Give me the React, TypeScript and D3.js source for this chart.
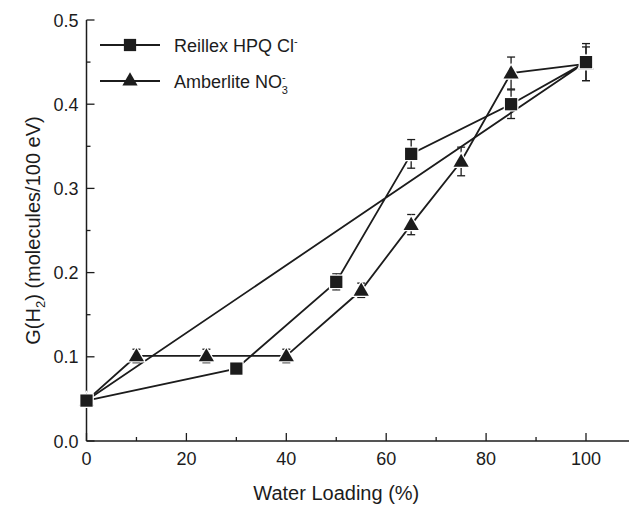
import React, { useEffect, useRef } from "react";
import * as d3 from "d3";

// Reillex HPQ Cl- (square markers)
const reillexX = [0, 30, 50, 65, 85, 100];
const reillexY = [0.048, 0.086, 0.189, 0.341, 0.4, 0.45];
const reillexErr = [0.004, 0.003, 0.0095, 0.017, 0.017, 0.022];

// Amberlite NO3- (triangle markers)
const amberliteX = [0, 10, 24, 40, 55, 65, 75, 85, 100];
const amberliteY = [0.048, 0.101, 0.101, 0.101, 0.179, 0.257, 0.332, 0.437, 0.448];
const amberliteErr = [0.004, 0.008, 0.008, 0.008, 0.0085, 0.012, 0.017, 0.019, 0.02];

const xTicks = [0, 20, 40, 60, 80, 100];
const xMinorTicks = [10, 30, 50, 70, 90];
const yTicks = [0, 0.1, 0.2, 0.3, 0.4, 0.5];
const yMinorTicks = [0.05, 0.15, 0.25, 0.35, 0.45];

const App = () => {
  const ref = useRef<SVGSVGElement>(null);

  useEffect(() => {
    const width = 629;
    const height = 506;
    const ink = "#1c1c1c";
    const font = "Arial, 'Liberation Sans', Helvetica, sans-serif";

    const svg = d3.select(ref.current);
    svg.selectAll("*").remove();
    svg.attr("width", width).attr("height", height);

    const x = d3.scaleLinear().domain([0, 100]).range([86.5, 586]);
    const y = d3.scaleLinear().domain([0, 0.5]).range([441, 20]);

    // axes (left and bottom only, inward ticks)
    const xAxis = svg.append("g");
    xAxis
      .append("line")
      .attr("x1", x(0))
      .attr("x2", width)
      .attr("y1", y(0))
      .attr("y2", y(0))
      .attr("stroke", ink)
      .attr("stroke-width", 1.5);
    xAxis
      .selectAll(".maj")
      .data(xTicks)
      .enter()
      .append("line")
      .attr("x1", (d) => x(d))
      .attr("x2", (d) => x(d))
      .attr("y1", y(0))
      .attr("y2", y(0) - 8)
      .attr("stroke", ink)
      .attr("stroke-width", 1.3);
    xAxis
      .selectAll(".min")
      .data(xMinorTicks)
      .enter()
      .append("line")
      .attr("x1", (d) => x(d))
      .attr("x2", (d) => x(d))
      .attr("y1", y(0))
      .attr("y2", y(0) - 4)
      .attr("stroke", ink)
      .attr("stroke-width", 1.3);
    xAxis
      .selectAll("text")
      .data(xTicks)
      .enter()
      .append("text")
      .attr("x", (d) => x(d))
      .attr("y", y(0) + 24)
      .attr("text-anchor", "middle")
      .attr("font-family", font)
      .attr("font-size", 18)
      .attr("fill", ink)
      .text((d) => d);

    const yAxis = svg.append("g");
    yAxis
      .append("line")
      .attr("x1", x(0))
      .attr("x2", x(0))
      .attr("y1", y(0))
      .attr("y2", y(0.5))
      .attr("stroke", ink)
      .attr("stroke-width", 1.5);
    yAxis
      .selectAll(".maj")
      .data(yTicks)
      .enter()
      .append("line")
      .attr("x1", x(0))
      .attr("x2", x(0) + 8)
      .attr("y1", (d) => y(d))
      .attr("y2", (d) => y(d))
      .attr("stroke", ink)
      .attr("stroke-width", 1.3);
    yAxis
      .selectAll(".min")
      .data(yMinorTicks)
      .enter()
      .append("line")
      .attr("x1", x(0))
      .attr("x2", x(0) + 4)
      .attr("y1", (d) => y(d))
      .attr("y2", (d) => y(d))
      .attr("stroke", ink)
      .attr("stroke-width", 1.3);
    yAxis
      .selectAll("text")
      .data(yTicks)
      .enter()
      .append("text")
      .attr("x", x(0) - 8)
      .attr("y", (d) => y(d) + 6.5)
      .attr("text-anchor", "end")
      .attr("font-family", font)
      .attr("font-size", 18)
      .attr("fill", ink)
      .text((d) => d3.format(".1f")(d));

    // axis titles
    svg
      .append("text")
      .attr("x", (x(0) + x(100)) / 2)
      .attr("y", 500)
      .attr("text-anchor", "middle")
      .attr("font-family", font)
      .attr("font-size", 20)
      .attr("fill", ink)
      .text("Water Loading (%)");

    const yt = svg
      .append("text")
      .attr("transform", `translate(40, ${(y(0) + y(0.5)) / 2}) rotate(-90)`)
      .attr("text-anchor", "middle")
      .attr("font-family", font)
      .attr("font-size", 20)
      .attr("fill", ink);
    yt.append("tspan").text("G(H");
    yt.append("tspan").attr("font-size", 13).attr("dy", 5).text("2");
    yt.append("tspan").attr("dy", -5).text(") (molecules/100 eV)");

    const reillex = reillexX.map((v, i) => ({ x: v, y: reillexY[i], e: reillexErr[i] }));
    const amberlite = amberliteX.map((v, i) => ({ x: v, y: amberliteY[i], e: amberliteErr[i] }));

    const line = d3
      .line<{ x: number; y: number }>()
      .x((d) => x(d.x))
      .y((d) => y(d.y));

    // Reillex path closes back to its first point
    svg
      .append("path")
      .attr("d", line(reillex) + "Z")
      .attr("fill", "none")
      .attr("stroke", ink)
      .attr("stroke-width", 1.8);
    svg
      .append("path")
      .attr("d", line(amberlite))
      .attr("fill", "none")
      .attr("stroke", ink)
      .attr("stroke-width", 1.8);

    // error bars
    const drawErr = (data) => {
      const g = svg.append("g").attr("stroke", ink).attr("stroke-width", 1.3);
      data.forEach((d) => {
        g.append("line")
          .attr("x1", x(d.x))
          .attr("x2", x(d.x))
          .attr("y1", y(d.y - d.e))
          .attr("y2", y(d.y + d.e));
        [d.y - d.e, d.y + d.e].forEach((v) => {
          g.append("line")
            .attr("x1", x(d.x) - 4)
            .attr("x2", x(d.x) + 4)
            .attr("y1", y(v))
            .attr("y2", y(v));
        });
      });
    };
    drawErr(amberlite);
    drawErr(reillex);

    const tri = d3.symbol().type(d3.symbolTriangle).size(100);
    const sq = d3.symbol().type(d3.symbolSquare).size(150);

    svg
      .append("g")
      .selectAll("path")
      .data(amberlite)
      .enter()
      .append("path")
      .attr("d", tri)
      .attr("transform", (d) => `translate(${x(d.x)}, ${y(d.y) + 1})`)
      .attr("fill", ink)
      .attr("stroke", "#fff")
      .attr("stroke-width", 2.5)
      .attr("paint-order", "stroke");
    svg
      .append("g")
      .selectAll("path")
      .data(reillex)
      .enter()
      .append("path")
      .attr("d", sq)
      .attr("transform", (d) => `translate(${x(d.x)}, ${y(d.y)})`)
      .attr("fill", ink)
      .attr("stroke", "#fff")
      .attr("stroke-width", 2.5)
      .attr("paint-order", "stroke");

    // legend
    const legend = svg.append("g").attr("font-family", font).attr("font-size", 18).attr("fill", ink);
    const rows = [
      { y: 45, sym: sq },
      { y: 81, sym: tri },
    ];
    rows.forEach((r) => {
      legend
        .append("line")
        .attr("x1", 100)
        .attr("x2", 160)
        .attr("y1", r.y)
        .attr("y2", r.y)
        .attr("stroke", ink)
        .attr("stroke-width", 1.8);
      legend
        .append("path")
        .attr("d", r.sym)
        .attr("transform", `translate(130, ${r.y})`)
        .attr("fill", ink);
    });
    const t1 = legend.append("text").attr("x", 174).attr("y", 51.5);
    t1.append("tspan").text("Reillex HPQ Cl");
    t1.append("tspan").attr("font-size", 11).attr("dy", -7).text("-");
    const t2 = legend.append("text").attr("x", 174).attr("y", 87.5);
    t2.append("tspan").text("Amberlite NO");
    t2.append("tspan").attr("font-size", 11).attr("dy", -7).text("-");
    t2.append("tspan").attr("font-size", 11).attr("dx", -4).attr("dy", 13).text("3");
  }, []);

  return <svg ref={ref} style={{ position: "absolute", left: 0, top: 0 }}></svg>;
};

export default App;
